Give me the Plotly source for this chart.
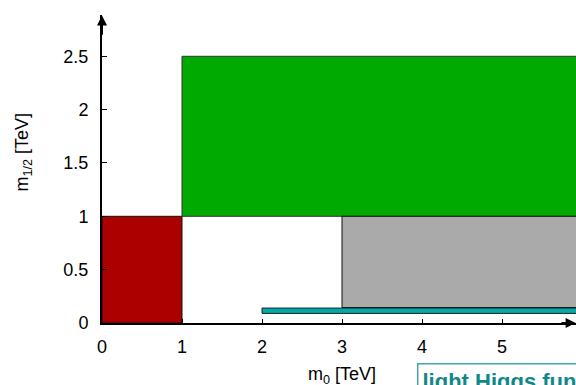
import plotly.graph_objects as go

# Regions in the (m0, m1/2) plane, TeV
region_names = ["stau coannihilation", "focus point", "heavy region", "light Higgs funnel"]
region_x0 = [0, 1, 3, 2]
region_x1 = [1, 6, 6, 6]
region_y0 = [0, 1, 0.145, 0.09]
region_y1 = [1, 2.5, 1, 0.14]
region_fill = ["#aa0000", "#00aa00", "#aaaaaa", "#00aaaa"]
region_edge = ["#111111", "#333333", "#111111", "#222222"]

x_ticks = [0, 1, 2, 3, 4, 5]
y_ticks = [0, 0.5, 1, 1.5, 2, 2.5]
y_ticklabels = ["0", "0.5", "1", "1.5", "2", "2.5"]

fig = go.Figure()
for n, x0, x1, y0, y1, fc, ec in zip(region_names, region_x0, region_x1, region_y0,
                                     region_y1, region_fill, region_edge):
    fig.add_trace(go.Scatter(
        x=[x0, x1, x1, x0, x0], y=[y0, y0, y1, y1, y0],
        fill="toself", fillcolor=fc, mode="lines",
        line=dict(color=ec, width=1), name=n, hoverinfo="name", showlegend=False))

XMAX = 5.925
YMAX = 2.887
font = "Liberation Sans, Arial, sans-serif"

fig.update_layout(
    width=576, height=385,
    margin=dict(l=102, r=0, t=15, b=62, autoexpand=False),
    paper_bgcolor="white", plot_bgcolor="white",
    font=dict(family=font, size=18, color="black"),
    xaxis=dict(range=[0, XMAX], tickvals=x_ticks, ticks="inside", ticklen=4,
               tickcolor="black", showgrid=False, zeroline=False, showline=True,
               linecolor="black", linewidth=2, ticklabelstandoff=6),
    yaxis=dict(range=[0, YMAX], tickvals=y_ticks, ticktext=y_ticklabels,
               ticks="inside", ticklen=5, tickcolor="black", showgrid=False,
               zeroline=False, showline=True, linecolor="black", linewidth=2,
               ticklabelstandoff=8),
)

# arrowheads at axis ends
fig.add_annotation(x=XMAX - 0.005, y=0, ax=XMAX - 0.2, ay=0, xref="x", yref="y",
                   axref="x", ayref="y", showarrow=True, arrowhead=2,
                   arrowsize=1, arrowwidth=2, arrowcolor="black", text="")
fig.add_annotation(x=0, y=YMAX - 0.005, ax=0, ay=YMAX - 0.2, xref="x", yref="y",
                   axref="x", ayref="y", showarrow=True, arrowhead=2,
                   arrowsize=1, arrowwidth=2, arrowcolor="black", text="")

# axis titles
fig.add_annotation(x=0.506, y=-0.214, xref="paper", yref="paper", showarrow=False,
                   text="m<sub>0</sub> [TeV]", font=dict(size=18))
fig.add_annotation(x=-0.194, y=0.555, xref="paper", yref="paper", showarrow=False,
                   text="m<sub>1/2</sub> [TeV]", textangle=-90, font=dict(size=18))

# label box
fig.add_annotation(x=0.665, y=-0.130, xref="paper", yref="paper",
                   xanchor="left", yanchor="top", showarrow=False,
                   text="<b>light Higgs funnel</b>",
                   font=dict(size=22, color="#108888"),
                   bordercolor="#40a8a8", borderwidth=1.5, borderpad=4,
                   bgcolor="white")

fig.write_html("out.html", config={"displayModeBar": False},
               post_script="document.body.style.margin='0';"
                           "document.body.style.overflow='hidden';")
